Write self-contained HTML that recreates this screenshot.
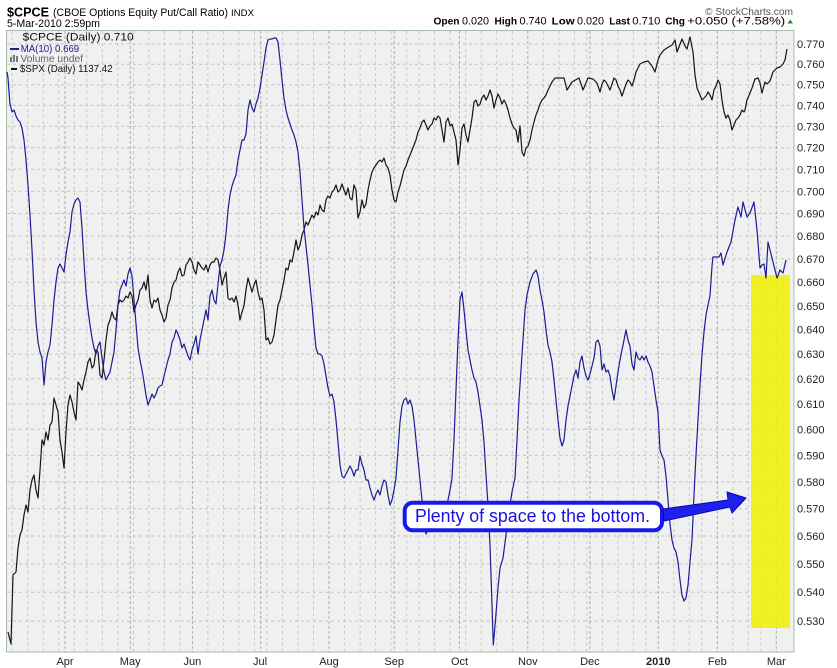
<!DOCTYPE html>
<html><head><meta charset="utf-8"><style>
html,body{margin:0;padding:0;background:#fff;}
svg{display:block;font-family:"Liberation Sans",Arial,sans-serif;}
</style></head><body>
<svg width="837" height="668" viewBox="0 0 837 668" xmlns="http://www.w3.org/2000/svg">
<defs><clipPath id="pc"><rect x="6" y="30" width="788" height="622"/></clipPath></defs>
<rect x="0" y="0" width="837" height="668" fill="#fff"/>
<!-- header -->
<text x="7" y="16.5" font-size="13" font-weight="bold" fill="#000" textLength="42" lengthAdjust="spacingAndGlyphs">$CPCE</text>
<text x="53" y="16" font-size="11" fill="#000" textLength="175" lengthAdjust="spacingAndGlyphs">(CBOE Options Equity Put/Call Ratio)</text>
<text x="231" y="16" font-size="9" fill="#000" textLength="23" lengthAdjust="spacingAndGlyphs">INDX</text>
<text x="7" y="27" font-size="11" fill="#000" textLength="93" lengthAdjust="spacingAndGlyphs">5-Mar-2010 2:59pm</text>
<text x="705" y="15" font-size="10" fill="#555" textLength="88" lengthAdjust="spacingAndGlyphs">© StockCharts.com</text>
<g font-size="11" fill="#000">
<text x="433.5" y="24.5" font-weight="bold" font-size="10.5" textLength="26" lengthAdjust="spacingAndGlyphs">Open</text>
<text x="462" y="24.5" textLength="27" lengthAdjust="spacingAndGlyphs">0.020</text>
<text x="494.5" y="24.5" font-weight="bold" font-size="10.5" textLength="22.5" lengthAdjust="spacingAndGlyphs">High</text>
<text x="519.5" y="24.5" textLength="27" lengthAdjust="spacingAndGlyphs">0.740</text>
<text x="551.7" y="24.5" font-weight="bold" font-size="10.5" textLength="23" lengthAdjust="spacingAndGlyphs">Low</text>
<text x="577" y="24.5" textLength="27" lengthAdjust="spacingAndGlyphs">0.020</text>
<text x="609.3" y="24.5" font-weight="bold" font-size="10.5" textLength="20.7" lengthAdjust="spacingAndGlyphs">Last</text>
<text x="632.3" y="24.5" textLength="28" lengthAdjust="spacingAndGlyphs">0.710</text>
<text x="665.2" y="24.5" font-weight="bold" font-size="10.5" textLength="19.8" lengthAdjust="spacingAndGlyphs">Chg</text>
<text x="687.2" y="24.5" textLength="98" lengthAdjust="spacingAndGlyphs">+0.050 (+7.58%)</text>
</g>
<polygon points="787.5,23.5 793,23.5 790.2,19.5" fill="#2a8a2a"/>
<!-- plot bg -->
<rect x="6.5" y="30.5" width="787.5" height="621.5" fill="#f0f0f0"/>
<!-- horizontal grid -->
<g stroke="#c4c4c4" stroke-width="1" stroke-dasharray="3,3">
<line x1="7" x2="794" y1="44" y2="44"/><line x1="7" x2="794" y1="64.2" y2="64.2"/><line x1="7" x2="794" y1="84.7" y2="84.7"/><line x1="7" x2="794" y1="105.4" y2="105.4"/><line x1="7" x2="794" y1="126.4" y2="126.4"/><line x1="7" x2="794" y1="147.7" y2="147.7"/><line x1="7" x2="794" y1="169.3" y2="169.3"/><line x1="7" x2="794" y1="191.3" y2="191.3"/><line x1="7" x2="794" y1="213.5" y2="213.5"/><line x1="7" x2="794" y1="236" y2="236"/><line x1="7" x2="794" y1="258.9" y2="258.9"/><line x1="7" x2="794" y1="282.2" y2="282.2"/><line x1="7" x2="794" y1="305.8" y2="305.8"/><line x1="7" x2="794" y1="329.7" y2="329.7"/><line x1="7" x2="794" y1="354" y2="354"/><line x1="7" x2="794" y1="378.8" y2="378.8"/><line x1="7" x2="794" y1="403.9" y2="403.9"/><line x1="7" x2="794" y1="429.4" y2="429.4"/><line x1="7" x2="794" y1="455.4" y2="455.4"/><line x1="7" x2="794" y1="481.8" y2="481.8"/><line x1="7" x2="794" y1="508.7" y2="508.7"/><line x1="7" x2="794" y1="536" y2="536"/><line x1="7" x2="794" y1="563.9" y2="563.9"/><line x1="7" x2="794" y1="592.2" y2="592.2"/><line x1="7" x2="794" y1="621.1" y2="621.1"/>
</g>
<!-- weekly grid -->
<g stroke="#c8c8c8" stroke-width="1" stroke-dasharray="3,3">
<line y1="31" y2="652" x1="12.2" x2="12.2"/><line y1="31" y2="652" x1="27.7" x2="27.7"/><line y1="31" y2="652" x1="43.3" x2="43.3"/><line y1="31" y2="652" x1="58.8" x2="58.8"/><line y1="31" y2="652" x1="74.3" x2="74.3"/><line y1="31" y2="652" x1="86.8" x2="86.8"/><line y1="31" y2="652" x1="102.3" x2="102.3"/><line y1="31" y2="652" x1="117.8" x2="117.8"/><line y1="31" y2="652" x1="133.3" x2="133.3"/><line y1="31" y2="652" x1="148.9" x2="148.9"/><line y1="31" y2="652" x1="164.4" x2="164.4"/><line y1="31" y2="652" x1="179.9" x2="179.9"/><line y1="31" y2="652" x1="207.9" x2="207.9"/><line y1="31" y2="652" x1="223.4" x2="223.4"/><line y1="31" y2="652" x1="238.9" x2="238.9"/><line y1="31" y2="652" x1="254.5" x2="254.5"/><line y1="31" y2="652" x1="266.9" x2="266.9"/><line y1="31" y2="652" x1="282.4" x2="282.4"/><line y1="31" y2="652" x1="298" x2="298"/><line y1="31" y2="652" x1="313.5" x2="313.5"/><line y1="31" y2="652" x1="344.6" x2="344.6"/><line y1="31" y2="652" x1="360.1" x2="360.1"/><line y1="31" y2="652" x1="375.6" x2="375.6"/><line y1="31" y2="652" x1="391.1" x2="391.1"/><line y1="31" y2="652" x1="406.7" x2="406.7"/><line y1="31" y2="652" x1="419.1" x2="419.1"/><line y1="31" y2="652" x1="434.6" x2="434.6"/><line y1="31" y2="652" x1="450.2" x2="450.2"/><line y1="31" y2="652" x1="465.7" x2="465.7"/><line y1="31" y2="652" x1="481.2" x2="481.2"/><line y1="31" y2="652" x1="496.7" x2="496.7"/><line y1="31" y2="652" x1="512.3" x2="512.3"/><line y1="31" y2="652" x1="543.3" x2="543.3"/><line y1="31" y2="652" x1="558.9" x2="558.9"/><line y1="31" y2="652" x1="574.4" x2="574.4"/><line y1="31" y2="652" x1="586.8" x2="586.8"/><line y1="31" y2="652" x1="602.4" x2="602.4"/><line y1="31" y2="652" x1="617.9" x2="617.9"/><line y1="31" y2="652" x1="633.4" x2="633.4"/><line y1="31" y2="652" x1="645.8" x2="645.8"/><line y1="31" y2="652" x1="673.8" x2="673.8"/><line y1="31" y2="652" x1="689.3" x2="689.3"/><line y1="31" y2="652" x1="701.7" x2="701.7"/><line y1="31" y2="652" x1="732.8" x2="732.8"/><line y1="31" y2="652" x1="748.3" x2="748.3"/><line y1="31" y2="652" x1="760.8" x2="760.8"/>
</g>
<!-- month grid -->
<g stroke="#a3b5a3" stroke-width="1" stroke-dasharray="3,2">
<line y1="31" y2="652" x1="65" x2="65"/><line y1="31" y2="652" x1="130.2" x2="130.2"/><line y1="31" y2="652" x1="192.4" x2="192.4"/><line y1="31" y2="652" x1="260.7" x2="260.7"/><line y1="31" y2="652" x1="329" x2="329"/><line y1="31" y2="652" x1="394.2" x2="394.2"/><line y1="31" y2="652" x1="459.5" x2="459.5"/><line y1="31" y2="652" x1="527.8" x2="527.8"/><line y1="31" y2="652" x1="589.9" x2="589.9"/><line y1="31" y2="652" x1="658.3" x2="658.3"/><line y1="31" y2="652" x1="717.3" x2="717.3"/><line y1="31" y2="652" x1="776.3" x2="776.3"/>
</g>
<!-- yellow highlight -->
<rect x="751" y="275" width="39" height="353" fill="#f0f000" fill-opacity="0.86"/>
<!-- plot border -->
<rect x="6.5" y="30.5" width="787.5" height="621.5" fill="none" stroke="#a6bea6" stroke-width="1"/>
<g clip-path="url(#pc)" fill="none" stroke-linejoin="round">
<!-- SPX black -->
<polyline stroke="#151515" stroke-width="1.2" points="8,632 11,644 13,575 16,572 18,548 20,535 22,530 24,515 26,505 28,512 30,490 32,480 34,475 36,490 38,498 40,470 42,440 44,445 46,432 48,440 50,425 52,422 54,398 56,405 58,412 60,440 62,452 64,468 66,432 68,405 70,395 72,402 74,412 76,420 78,382 80,385 82,390 84,380 86,372 88,362 90,358 92,368 94,365 96,350 98,352 100,375 102,378 104,360 106,340 108,325 110,320 112,312 114,318 116,320 118,305 120,300 122,302 124,300 126,296 128,298 130,292 132,296 134,312 136,305 138,300 140,290 142,288 144,282 146,290 148,275 150,300 152,308 154,300 156,302 158,298 160,310 162,315 164,322 166,318 168,305 170,300 172,288 174,282 176,280 178,272 180,268 182,276 184,275 186,265 188,262 190,258 192,262 194,270 196,274 198,262 200,265 202,268 204,270 206,265 208,272 210,265 212,262 214,262 216,258 218,260 220,270 222,285 224,278 226,272 228,298 230,300 232,298 234,302 236,296 238,305 240,320 242,312 244,306 246,290 248,278 250,285 252,292 254,285 256,280 258,292 260,300 262,298 264,310 266,340 268,338 270,344 272,342 274,335 276,320 278,305 280,300 282,290 284,280 286,268 288,270 290,260 292,262 294,252 296,240 298,250 300,245 302,235 304,230 306,222 308,225 310,220 312,215 314,218 316,212 318,215 320,205 322,210 324,212 326,200 328,196 330,198 332,192 334,190 336,185 338,192 340,190 342,184 344,190 346,195 348,188 350,198 352,200 354,185 356,190 358,218 360,212 362,200 364,208 366,204 368,190 370,180 372,172 374,168 376,165 378,162 380,160 382,162 384,158 386,165 388,168 390,175 392,190 394,200 396,202 398,192 400,186 402,178 404,170 406,166 408,160 410,155 412,150 414,145 416,140 418,132 420,128 422,122 424,120 426,125 428,130 430,126 432,124 434,118 436,120 438,116 440,118 442,130 444,142 446,122 448,118 450,126 452,124 454,132 456,140 458,165 460,150 462,128 464,124 466,135 468,142 470,130 472,118 474,102 476,100 478,106 480,104 482,98 484,95 486,100 488,96 490,90 492,96 494,108 496,100 498,94 500,98 502,104 504,100 506,104 508,110 510,118 512,124 514,128 516,130 518,142 520,126 522,152 524,156 526,148 528,146 530,140 532,130 534,122 536,115 538,110 540,104 542,100 544,98 546,95 548,90 552,82 555,78 558,78 564,78 567,90 572,82 579,78 583,90 588,78 593,79 597,83 600,92 602,84 604,80 606,82 608,86 610,90 612,84 614,78 616,80 618,86 620,90 622,96 624,90 626,84 628,80 630,82 632,86 634,80 636,72 640,64 644,62 648,61 652,66 655,72 658,60 660,55 664,50 667,48 672,45 675,40 677,52 682,39 685,46 687,49 690,37 693,52 695,75 697,88 700,95 702,100 704,98 706,96 708,92 710,95 712,100 714,90 716,86 718,80 720,84 722,100 724,112 726,118 728,115 730,120 732,130 734,125 736,120 738,118 740,115 742,110 744,112 745,110 747,100 750,93 752,88 755,79 758,78 760,83 762,93 765,82 767,84 770,81 773,72 777,68 780,67 783,64 785,60 787,49"/>
<!-- MA(10) blue -->
<polyline stroke="#1c1c96" stroke-width="1.2" points="7,72 8,78 9,92 10,104 12,112 14,110 16,116 18,120 20,122 22,128 24,140 26,160 28,185 30,215 32,250 34,290 36,322 38,342 40,352 42,358 44,385 46,362 48,352 50,345 52,325 54,300 56,282 58,268 60,264 62,268 64,272 66,255 68,242 70,232 72,212 74,204 76,200 78,198 80,202 82,228 84,262 86,292 88,310 90,325 92,338 94,348 96,354 98,346 100,342 102,358 104,372 106,380 108,376 110,372 112,362 114,352 116,330 118,305 120,290 122,285 124,280 126,286 128,274 130,268 132,276 134,300 136,324 138,348 140,360 142,370 144,382 146,395 148,405 150,400 152,394 154,398 156,394 158,388 160,386 162,385 164,376 166,368 168,360 170,354 172,342 174,338 176,330 178,334 180,340 182,348 184,344 186,350 188,356 190,360 192,350 194,344 196,336 198,354 200,340 202,330 204,320 206,310 208,320 210,296 212,290 214,300 216,304 218,284 220,266 222,260 224,250 226,234 228,210 230,195 232,186 234,180 236,175 238,160 240,150 242,140 244,140 246,134 248,110 250,100 252,108 254,112 256,104 258,98 260,88 262,75 264,62 266,48 268,40 270,39 272,39 274,38 276,38 278,42 280,60 282,80 284,98 286,110 288,118 290,124 292,130 294,135 296,142 298,152 300,172 302,200 304,228 306,246 308,265 310,285 312,305 314,328 316,348 318,354 320,354 322,356 324,364 326,376 328,388 330,396 332,394 334,402 336,420 338,442 340,465 342,476 344,478 346,474 348,470 350,466 352,470 354,476 356,470 358,470 360,456 362,464 364,470 366,480 368,480 370,488 372,495 374,500 376,494 378,490 380,495 382,486 384,480 386,482 388,495 390,505 392,500 394,490 396,478 398,450 400,422 402,406 404,400 406,398 408,404 410,400 412,406 414,420 416,440 418,460 420,480 422,500 424,518 426,534 428,530 430,524 432,520 434,521 436,520 438,518 440,516 442,514 444,515 446,510 448,500 450,490 452,478 454,440 456,390 458,340 460,300 462,292 464,310 466,330 468,350 470,360 472,370 474,378 476,382 478,392 480,406 482,420 484,442 486,475 488,505 490,545 491.5,590 493.3,645 495.5,620 498,588 500,568 503,558 506,535 509,510 512,492 515,478 517,440 519,400 521,370 523,340 525,310 527,295 530,282 533,274 536,270 538,276 540,290 542,300 544,312 546,330 548,345 550,352 552,362 554,380 556,400 558,420 560,438 562,446 564,440 566,420 568,406 570,396 572,386 574,376 576,370 578,378 580,362 582,356 584,368 586,376 588,380 590,374 592,366 594,358 596,342 598,340 600,346 602,370 604,364 606,372 608,370 610,376 612,390 614,400 616,386 618,372 620,360 622,350 624,340 626,330 628,340 630,346 632,364 634,370 636,352 638,358 640,360 642,356 644,360 646,356 648,362 650,366 652,372 654,386 656,400 658,412 660,450 662,456 664,460 666,476 668,500 670,524 672,540 674,548 676,552 678,562 680,580 682,595 684,601 686,598 688,585 690,562 692,540 694,495 696,455 698,420 700,385 702,355 704,332 706,315 708,305 710,296 712,266 713,257 719,257 721,253 723,265 727,252 731,242 735,220 738,207 741,217 743,202 747,217 750,213 754,202 757,230 760,268 762,265 764,264 766,278 768,242 770,250 773,262 777,278 780,270 783,273 786,260"/>
</g>
<!-- legend -->
<text x="22.7" y="40.5" font-size="11" fill="#111" textLength="111" lengthAdjust="spacingAndGlyphs">$CPCE (Daily) 0.710</text>
<line x1="10" x2="19" y1="49" y2="49" stroke="#1c1c96" stroke-width="2"/>
<text x="20.7" y="52" font-size="10.5" fill="#1c1c96" textLength="58.5" lengthAdjust="spacingAndGlyphs">MA(10) 0.669</text>
<g fill="#777"><rect x="10" y="57" width="2" height="5"/><rect x="13" y="55" width="2" height="7"/><rect x="16" y="56" width="2" height="6"/></g>
<text x="20.5" y="62" font-size="10.5" fill="#666" textLength="62.5" lengthAdjust="spacingAndGlyphs">Volume undef</text>
<line x1="11" x2="17" y1="69" y2="69" stroke="#111" stroke-width="2"/>
<text x="20" y="72" font-size="10.5" fill="#111" textLength="92.5" lengthAdjust="spacingAndGlyphs">$SPX (Daily) 1137.42</text>
<!-- y axis labels -->
<g font-size="11" fill="#222">
<text x="797" y="48">0.770</text><text x="797" y="68.2">0.760</text><text x="797" y="88.7">0.750</text><text x="797" y="109.4">0.740</text><text x="797" y="130.4">0.730</text><text x="797" y="151.7">0.720</text><text x="797" y="173.3">0.710</text><text x="797" y="195.3">0.700</text><text x="797" y="217.5">0.690</text><text x="797" y="240">0.680</text><text x="797" y="262.9">0.670</text><text x="797" y="286.2">0.660</text><text x="797" y="309.8">0.650</text><text x="797" y="333.7">0.640</text><text x="797" y="358">0.630</text><text x="797" y="382.8">0.620</text><text x="797" y="407.9">0.610</text><text x="797" y="433.4">0.600</text><text x="797" y="459.4">0.590</text><text x="797" y="485.8">0.580</text><text x="797" y="512.7">0.570</text><text x="797" y="540">0.560</text><text x="797" y="567.9">0.550</text><text x="797" y="596.2">0.540</text><text x="797" y="625.1">0.530</text>
</g>
<!-- x axis labels -->
<g font-size="11" fill="#222" text-anchor="middle">
<text x="65" y="665">Apr</text><text x="130.2" y="665">May</text><text x="192.4" y="665">Jun</text><text x="260" y="665">Jul</text><text x="329" y="665">Aug</text><text x="394.2" y="665">Sep</text><text x="459.5" y="665">Oct</text><text x="527.8" y="665">Nov</text><text x="589.9" y="665">Dec</text><text x="658.3" y="665" font-weight="bold">2010</text><text x="717.3" y="665">Feb</text><text x="776.3" y="665">Mar</text>
</g>
<!-- callout -->
<rect x="406" y="504" width="258" height="28" rx="9" fill="#8888aa" opacity="0.25"/>
<rect x="404.7" y="502.7" width="257.3" height="27.6" rx="8" fill="#fff" stroke="#1818ee" stroke-width="4"/>
<text x="415" y="522" font-size="18" fill="#1a10e6" textLength="235" lengthAdjust="spacingAndGlyphs">Plenty of space to the bottom.</text>
<polygon points="663,509 728,500 727,492 746,498 732,513 730,507 664,521" fill="#2020ee" stroke="#0808b0" stroke-width="1" stroke-linejoin="round"/>
</svg>
</body></html>
